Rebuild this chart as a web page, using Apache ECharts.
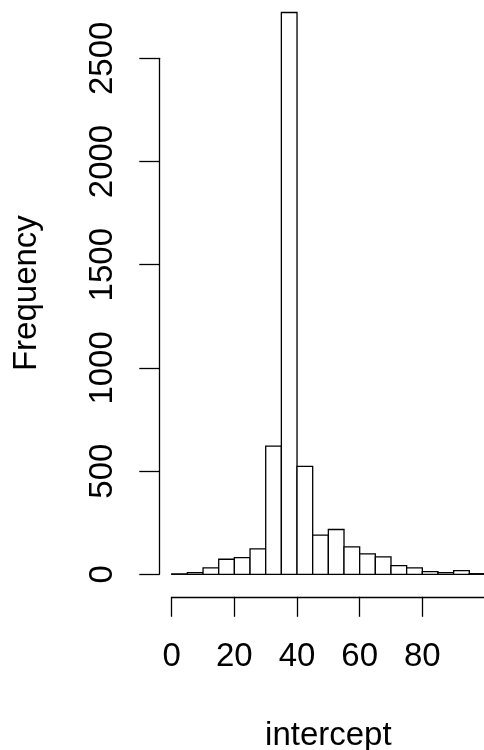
<!DOCTYPE html>
<html>
<head>
<meta charset="utf-8">
<script src="https://cdn.jsdelivr.net/npm/echarts@6/dist/echarts.min.js"></script>
<style>html,body{margin:0;padding:0;background:#fff}#c{width:484px;height:750px}</style>
</head>
<body>
<div id="c"></div>
<script>
// Histogram bins (width 5) and counts
var binStarts = [0, 5, 10, 15, 20, 25, 30, 35, 40, 45, 50, 55, 60, 65, 70, 75, 80, 85, 90, 95];
var binEnds   = [5, 10, 15, 20, 25, 30, 35, 40, 45, 50, 55, 60, 65, 70, 75, 80, 85, 90, 95, 100];
var counts    = [2, 8, 31, 73, 81, 123, 621, 2722, 523, 190, 217, 133, 99, 84, 42, 31, 13, 8, 18, 3];
var yTickValues = [0, 500, 1000, 1500, 2000, 2500];
var xTickValues = [0, 20, 40, 60, 80, 100];
var xLabel = 'intercept';
var yLabel = 'Frequency';

var FONT = 'Liberation Sans, Arial, Helvetica, sans-serif';
var FS = 33;

var data = binStarts.map(function (s, i) { return [s, binEnds[i], counts[i]]; });

var chart = echarts.init(document.getElementById('c'), null, {renderer: 'canvas'});
chart.setOption({
  animation: false,
  backgroundColor: '#ffffff',
  grid: [
    {left: 159.2, top: -10.6, width: 338.3, height: 607.4, outerBoundsMode: 'none', containLabel: false},
    {left: 159.3, top: 58.3, width: 1, height: 516, outerBoundsMode: 'none', containLabel: false},
    {left: 171.7, top: 595.8, width: 313.25, height: 1, outerBoundsMode: 'none', containLabel: false}
  ],
  xAxis: [
    {gridIndex: 0, type: 'value', min: -4, max: 104,
     axisLine: {show: false}, axisTick: {show: false}, axisLabel: {show: false}, splitLine: {show: false},
     name: xLabel, nameLocation: 'middle', nameGap: 123,
     nameTextStyle: {fontFamily: FONT, fontSize: FS, color: '#000'}},
    {gridIndex: 1, type: 'value', show: false},
    {gridIndex: 2, type: 'value', min: 0, max: 100, interval: 20, position: 'bottom',
     axisLine: {show: true, lineStyle: {color: '#000', width: 1.3}},
     axisTick: {show: true, length: 20, inside: false, lineStyle: {color: '#000', width: 1.3}},
     axisLabel: {show: true, margin: 44, fontFamily: FONT, fontSize: FS, color: '#000',
       showMinLabel: true, showMaxLabel: false,
       formatter: function (v) { return v === 100 ? '' : String(v); }},
     splitLine: {show: false}}
  ],
  yAxis: [
    {gridIndex: 0, type: 'value', min: -109, max: 2834,
     axisLine: {show: false}, axisTick: {show: false}, axisLabel: {show: false}, splitLine: {show: false},
     name: yLabel, nameLocation: 'middle', nameGap: 116, nameRotate: 90,
     nameTextStyle: {fontFamily: FONT, fontSize: FS, color: '#000'}},
    {gridIndex: 1, type: 'value', min: 0, max: 2500, interval: 500, position: 'left',
     axisLine: {show: true, lineStyle: {color: '#000', width: 1.3}},
     axisTick: {show: true, length: 20, lineStyle: {color: '#000', width: 1.3}},
     axisLabel: {show: true, rotate: 90, margin: 40, fontFamily: FONT, fontSize: FS, color: '#000',
       showMinLabel: true, showMaxLabel: true,
       formatter: function (v) { return String(v); }},
     splitLine: {show: false}},
    {gridIndex: 2, type: 'value', show: false}
  ],
  series: [{
    type: 'custom',
    xAxisIndex: 0,
    yAxisIndex: 0,
    clip: false,
    data: data,
    renderItem: function (params, api) {
      var p0 = api.coord([api.value(0), api.value(2)]);
      var p1 = api.coord([api.value(1), 0]);
      return {
        type: 'rect',
        shape: {x: p0[0], y: p0[1], width: p1[0] - p0[0], height: p1[1] - p0[1]},
        style: {fill: '#ffffff', stroke: '#000000', lineWidth: 1.3}
      };
    }
  }]
});
</script>
</body>
</html>
